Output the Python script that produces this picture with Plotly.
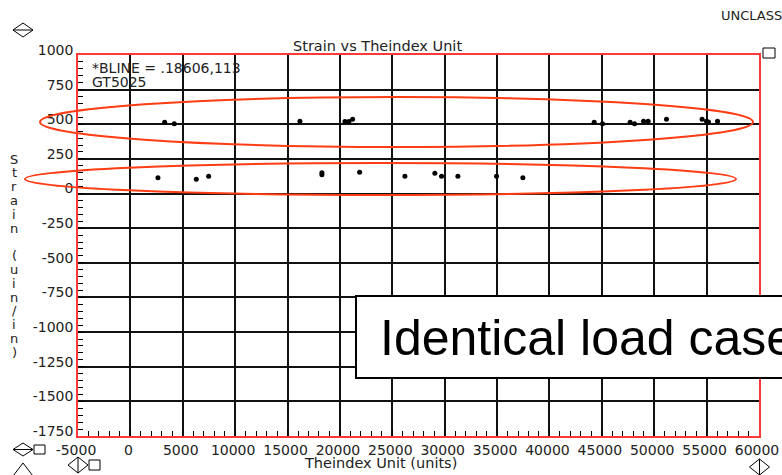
import plotly.graph_objects as go

# ---- data ----
upper_x = [3270, 4190, 16180, 20480, 20860, 21210, 44270, 45060, 47700, 48120,
           48980, 49420, 51170, 54570, 54990, 55180, 56040]
upper_y = [514, 504, 521, 520, 520, 536, 514, 504, 514, 504,
           521, 521, 536, 536, 521, 516, 521]
lower_x = [2630, 6290, 7470, 18280, 18280, 21880, 26200, 29060, 29700, 31260, 34950, 37460]
lower_y = [114, 104, 124, 135, 150, 153, 124, 146, 124, 124, 124, 114]

x_range = [-5000, 60000]
y_range = [-1750, 1000]
x_tickvals = [-5000, 0, 5000, 10000, 15000, 20000, 25000, 30000, 35000, 40000,
              45000, 50000, 55000, 60000]
x_ticktext = ["-5000", "0", "5000", "10000", "15000", "20000", "25000", "30000",
              "35000", "40000", "45000", "50000", "55000", "60000"]
y_tickvals = [1000, 750, 500, 250, 0, -250, -500, -750, -1000, -1250, -1500, -1750]
y_ticktext = ["1000", "750", "500", "250", "0", "-250", "-500", "-750", "-1000",
              "-1250", "-1500", "-1750"]

title_text = "Strain vs Theindex Unit"
x_title = "Theindex Unit (units)"
y_title = "Strain (uin/in)"
info_lines = ["*BLINE = .18606,113", "GT5025"]
callout = "Identical load case"

# ---- layout geometry (pixels) ----
W, H = 782, 475
L, R, T, B = 78, 23, 55, 39
PW, PH = W - L - R, H - T - B

def px(x):
    return (x - L) / PW

def py(y):
    return (H - B - y) / PH

FONT = "DejaVu Sans"
RED = "#FF3C14"
FRAME = "#FF3838"

fig = go.Figure()
fig.add_trace(go.Scatter(x=upper_x + lower_x, y=upper_y + lower_y, mode="markers",
                         marker=dict(color="black", size=5), showlegend=False,
                         cliponaxis=False))

axis_common = dict(showline=True, linecolor=FRAME, linewidth=1.5, mirror=True,
                   showgrid=True, gridcolor="#111111", gridwidth=1.5,
                   zeroline=False, ticks="inside", ticklen=6, tickcolor="black",
                   tickmode="array", automargin=False,
                   tickfont=dict(family=FONT, size=14, color="#222222"))

fig.update_xaxes(range=x_range, tickvals=x_tickvals, ticktext=x_ticktext,
                 minor=dict(dtick=1000, tick0=0, ticks="inside", ticklen=5, tickcolor="black", showgrid=False),
                 ticklabelshift=-2,
                 **axis_common)
fig.update_yaxes(range=y_range, tickvals=y_tickvals, ticktext=y_ticktext,
                 minor=dict(dtick=50, tick0=0, ticks="inside", ticklen=5, tickcolor="black", showgrid=False),
                 ticklabelshift=-5,
                 **axis_common)

shapes = []
# ellipses
shapes.append(dict(type="circle", xref="paper", yref="paper", x0=px(40), x1=px(753),
                   y0=py(147), y1=py(97), line=dict(color=RED, width=2)))
shapes.append(dict(type="circle", xref="paper", yref="paper", x0=px(25), x1=px(736),
                   y0=py(195), y1=py(163), line=dict(color=RED, width=2)))
# callout box
shapes.append(dict(type="rect", xref="paper", yref="paper", x0=px(356), x1=px(820),
                   y0=py(378), y1=py(296), fillcolor="white", line=dict(color="black", width=2),
                   layer="above"))

# decorative symbols
def diamond(cx, cy, hw, hh, horiz=True):
    p = f"M {px(cx-hw)} {py(cy)} L {px(cx)} {py(cy-hh)} L {px(cx+hw)} {py(cy)} L {px(cx)} {py(cy+hh)} Z"
    if horiz:
        p += f" M {px(cx-hw)} {py(cy)} L {px(cx+hw)} {py(cy)}"
    else:
        p += f" M {px(cx)} {py(cy-hh)} L {px(cx)} {py(cy+hh)}"
    return dict(type="path", xref="paper", yref="paper", path=p, line=dict(color="black", width=1))

def square(x0, y0, x1, y1):
    return dict(type="rect", xref="paper", yref="paper", x0=px(x0), x1=px(x1), y0=py(y1), y1=py(y0),
                line=dict(color="black", width=1))

shapes.append(diamond(23, 30, 10, 7, True))
shapes.append(square(763, 48, 775, 58))
shapes.append(diamond(23, 449.5, 10, 6.5, True))
shapes.append(square(34, 445, 45, 454))
shapes.append(dict(type="path", xref="paper", yref="paper",
                   path=f"M {px(13)} {py(476)} L {px(23)} {py(463)} L {px(33)} {py(476)}",
                   line=dict(color="black", width=1)))
shapes.append(diamond(78, 465, 10, 8, False))
shapes.append(square(89, 460, 100, 470))
shapes.append(diamond(759.5, 467, 10, 8, False))

annotations = []
def txt(text, x, y, size=14, xanchor="center", family=FONT, color="#222222"):
    annotations.append(dict(text=text, x=px(x), y=py(y), xref="paper", yref="paper",
                            showarrow=False, xanchor=xanchor, yanchor="middle",
                            font=dict(family=family, size=size, color=color)))

txt(title_text, 377, 46, size=14.5)
txt(x_title, 380, 463, size=14.5)
txt(info_lines[0], 90, 68, xanchor="left")
txt(info_lines[1], 90, 82, xanchor="left")
txt("UNCLASSIFIED", 719, 16, size=13, xanchor="left")
for i, ch in enumerate(y_title):
    if ch != " ":
        txt(ch, 14, 159 + i * 13.8, size=13)

annotations.append(dict(text=callout, x=px(378), y=py(338), xref="paper", yref="paper",
                        showarrow=False, xanchor="left", yanchor="middle",
                        font=dict(family="Liberation Sans", size=50, color="black")))

fig.update_layout(width=W, height=H, margin=dict(l=L, r=R, t=T, b=B, autoexpand=False),
                  paper_bgcolor="white", plot_bgcolor="white",
                  shapes=shapes, annotations=annotations, showlegend=False)

fig.write_html("out.html")
